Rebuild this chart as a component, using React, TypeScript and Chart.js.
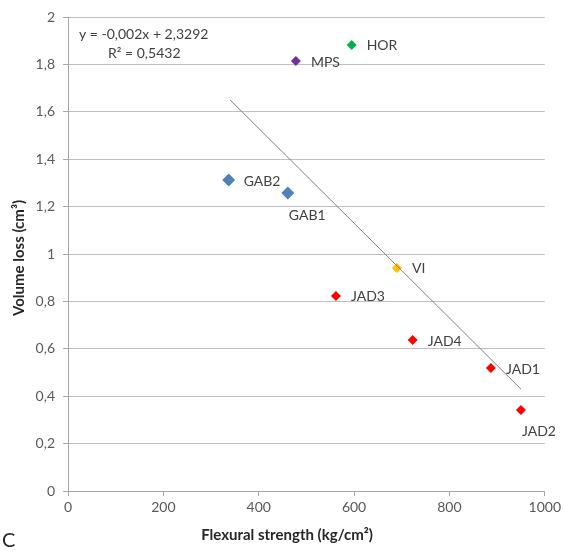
import React, { useEffect, useRef } from "react";
import { Chart, registerables } from "chart.js";
Chart.register(...registerables);

const labels = ["GAB2", "GAB1", "MPS", "HOR", "VI", "JAD3", "JAD4", "JAD1", "JAD2"];
const xValues = [337, 461, 478, 595, 690, 562, 723, 887, 950];
const yValues = [1.312, 1.257, 1.814, 1.882, 0.941, 0.823, 0.637, 0.519, 0.342];
const colors = ["#4F81BD", "#4F81BD", "#7030A0", "#00B050", "#FFC000", "#FF0000", "#FF0000", "#FF0000", "#FF0000"];
const radii = [6.5, 6.5, 5, 5, 5, 5, 5, 5, 5];
// label placement: "r" = right, "b" = below
const labelPos = ["r", "b", "r", "r", "r", "r", "r", "r", "b"];
const trendX = [340, 950];
const trendY = [1.65, 0.43];
const equationLines = ["y = -0,002x + 2,3292", "R\u00B2 = 0,5432"];
const xTicks = [0, 200, 400, 600, 800, 1000];

const FONT = "Lato, 'Open Sans', sans-serif";

const overlay = {
  id: "overlay",
  afterDatasetsDraw(chart: any) {
    const ctx = chart.ctx;
    const xs = chart.scales.x;
    const ys = chart.scales.y;
    ctx.save();
    ctx.fillStyle = "#404040";
    ctx.font = `14px ${FONT}`;
    ctx.textBaseline = "middle";
    ctx.textAlign = "left";
    labels.forEach((lab, i) => {
      const px = xs.getPixelForValue(xValues[i]);
      const py = ys.getPixelForValue(yValues[i]);
      if (labelPos[i] === "r") {
        ctx.fillText(lab, px + 15, py + 1);
      } else {
        ctx.fillText(lab, px + 1, py + 22);
      }
    });
    // equation
    ctx.fillText(equationLines[0], 79, 34);
    ctx.fillText(equationLines[1], 108, 53);
    // axis titles
    ctx.font = `bold 15px ${FONT}`;
    ctx.fillStyle = "#262626";
    ctx.textAlign = "center";
    ctx.fillText("Flexural strength (kg/cm\u00B2)", 287, 535);
    ctx.save();
    ctx.translate(19, 258);
    ctx.rotate(-Math.PI / 2);
    ctx.fillText("Volume loss (cm\u00B3)", 0, 0);
    ctx.restore();
    // panel letter
    ctx.font = `20px ${FONT}`;
    ctx.fillStyle = "#262626";
    ctx.textAlign = "left";
    ctx.fillText("C", 2, 541);
    ctx.restore();
  },
};

export default function App() {
  const ref = useRef<HTMLCanvasElement>(null);
  useEffect(() => {
    if (!ref.current) return;
    const chart = new Chart(ref.current, {
      type: "scatter",
      data: {
        datasets: [
          {
            type: "line",
            data: trendX.map((x, i) => ({ x, y: trendY[i] })),
            borderColor: "#7F7F7F",
            borderWidth: 1,
            pointRadius: 0,
            fill: false,
          } as any,
          {
            data: xValues.map((x, i) => ({ x, y: yValues[i] })),
            pointStyle: "rectRot",
            pointRadius: radii,
            backgroundColor: colors,
            borderColor: colors,
            borderWidth: 0,
          } as any,
        ],
      },
      plugins: [overlay],
      options: {
        animation: false,
        responsive: false,
        maintainAspectRatio: false,
        layout: { padding: { top: 17, right: 19, left: 0, bottom: 0 } },
        plugins: { legend: { display: false }, tooltip: { enabled: false } },
        scales: {
          x: {
            type: "linear",
            min: 0,
            max: 1000,
            afterBuildTicks: (s: any) => {
              s.ticks = xTicks.map((v) => ({ value: v }));
            },
            afterFit: (s: any) => {
              s.height = 61;
            },
            grid: { drawOnChartArea: false, drawTicks: true, tickLength: 5, color: "#A6A6A6" },
            border: { color: "#A6A6A6" },
            ticks: {
              color: "#595959",
              font: { size: 14, family: FONT },
              padding: 3,
              maxRotation: 0,
              callback: (v: any) => String(v),
            },
          },
          y: {
            min: 0,
            max: 2,
            afterFit: (s: any) => {
              s.width = 68;
            },
            grid: { color: "#BFBFBF", tickLength: 5, tickColor: "#A6A6A6" },
            border: { color: "#A6A6A6" },
            ticks: {
              stepSize: 0.2,
              color: "#595959",
              font: { size: 14, family: FONT },
              padding: 8,
              callback: (v: any) => String(Math.round(Number(v) * 10) / 10).replace(".", ","),
            },
          },
        },
      },
    });
    return () => chart.destroy();
  }, []);
  return (
    <div style={{ position: "fixed", left: 0, top: 0, width: 564, height: 552, background: "#fff" }}>
      <canvas ref={ref} width={564} height={552} style={{ width: 564, height: 552 }} />
    </div>
  );
}
